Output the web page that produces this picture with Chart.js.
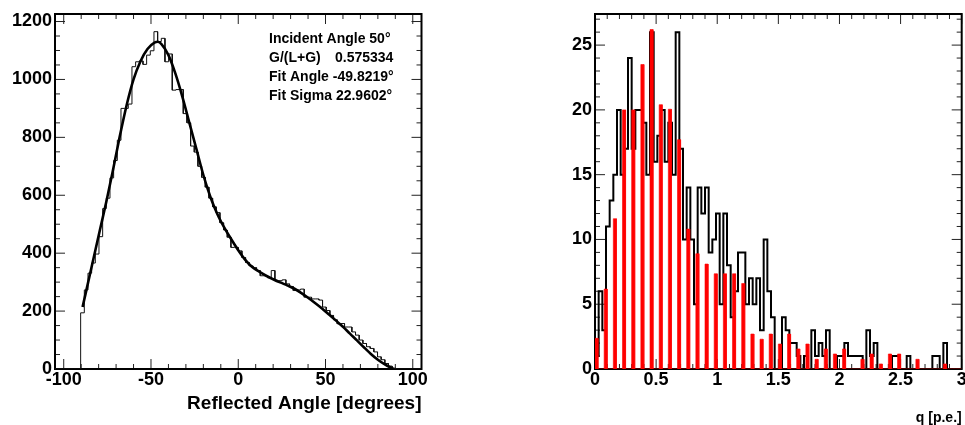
<!DOCTYPE html>
<html>
<head>
<meta charset="utf-8">
<script src="https://cdn.jsdelivr.net/npm/chart.js@4/dist/chart.umd.min.js"></script>
<style>
  body { margin: 0; background: #fff; }
  #wrap { position: relative; width: 965px; height: 425px; overflow: hidden; }
  canvas { position: absolute; top: 0; }
</style>
</head>
<body>
<div id="wrap">
  <canvas id="angle" width="482" height="425" style="left:0"></canvas>
  <canvas id="charge" width="483" height="425" style="left:482px"></canvas>
</div>
<script>
"use strict";

// reflected angle histogram: 100 bins of 2.1 deg from -105 to 105
const angleRange = [-105, 105];
const angleCounts = [
  0, 0, 0, 0, 0, 0, 0,
  194, 273, 331, 366, 397, 457, 554, 590, 660, 720, 790, 900, 900, 915,
  1044, 1061, 1064, 1052, 1084, 1099, 1165, 1131, 1142, 1061, 1088, 963, 965, 965,
  882, 850, 770, 749, 700, 662, 628, 590, 560, 540, 505, 480, 455, 420, 420, 408,
  385, 368, 356, 350, 340, 322, 322, 315, 340, 305, 305, 308, 294, 285, 271, 273,
  276, 248, 248, 242, 242, 238, 214, 202, 185, 170, 156, 157, 145, 145, 128, 117,
  100, 88, 77, 71, 59, 42, 32, 19, 10, 3,
  0, 0, 0, 0, 0, 0, 0
];
// fitted curve, sampled along the angle axis
const fitAngle = [-89.2, -84, -79.3, -75.5, -72, -68, -64, -60, -56, -52, -48, -46, -44,
  -40, -36, -32, -28, -24, -20, -16, -12, -8, -4, 0, 4, 8, 12, 16, 20, 24, 28, 32, 36,
  40, 44, 48, 52, 56, 60, 64, 68, 72, 76, 80, 84, 88.9];
const fitValue = [214, 353, 479, 580, 680, 800, 910, 1000, 1063, 1105, 1127, 1130, 1122,
  1084, 1020, 940, 850, 760, 670, 595, 535, 488, 448, 410, 377, 352, 336, 322, 310, 299, 289, 278, 263,
  246, 228, 209, 188, 167, 146, 122, 99, 75, 52, 32, 16, 0];
const angleTicks = [-100, -50, 0, 50, 100];
const angleCountTicks = [0, 200, 400, 600, 800, 1000, 1200];
const fitSummary = [
  ["Incident Angle 50\u00b0"],
  ["G/(L+G)", "0.575334"],
  ["Fit Angle -49.8219\u00b0"],
  ["Fit Sigma 22.9602\u00b0"]
];

// charge spectrum: 100 bins of 0.03 p.e. from 0 to 3
const chargeRange = [0, 3];
const chargeCounts = [
  1, 6, 3, 11, 13, 15, 20, 15, 17, 24, 17, 20, 20, 19, 15, 26, 16, 18, 20, 16,
  19, 15, 26, 17, 10, 14, 10, 5, 14, 12, 14, 9, 10, 12, 5, 12, 8, 4, 6, 9,
  9, 5, 7, 5, 7, 3, 10, 6, 4, 0, 0, 4, 3, 2, 2, 1, 0, 1, 0, 3,
  1, 2, 1, 3, 0, 0, 1, 1, 2, 1, 1, 1, 1, 0, 3, 1, 2, 0, 0, 0,
  0, 1, 1, 0, 0, 1, 0, 0, 0, 0, 0, 0, 1, 1, 0, 2, 0, 0, 0, 0
];
// scaled single-photoelectron spectrum: narrow 0.025 bins
const peBinWidth = 0.025;
const peBinStart = [0, 0.075, 0.15, 0.225, 0.3, 0.375, 0.45, 0.525, 0.6, 0.675,
  0.75, 0.825, 0.9, 0.975, 1.05, 1.125, 1.2, 1.275, 1.35, 1.425,
  1.5, 1.575, 1.65, 1.725, 1.8, 1.875, 1.95, 2.025, 2.1, 2.175,
  2.25, 2.325, 2.4, 2.475, 2.55, 2.625, 2.7, 2.775, 2.85, 2.925];
const peHeights = [2.37, 6.17, 11.6, 20.0, 20.0, 23.5, 26.2, 20.4, 20.05, 17.7,
  10.8, 8.9, 8.1, 7.35, 7.35, 7.35, 6.6, 2.7, 2.3, 2.7,
  1.93, 2.7, 1.55, 1.93, 0.75, 1.55, 1.16, 1.55, 0, 0.75,
  1.16, 0.39, 1.16, 1.16, 0, 0.75, 0, 0, 0.39, 0];
const chargeTicks = [0, 0.5, 1, 1.5, 2, 2.5, 3];
const chargeCountTicks = [0, 5, 10, 15, 20, 25];

const FONT = "'Liberation Sans', Arial, Helvetica, sans-serif";
Chart.defaults.font.family = FONT;
Chart.defaults.color = "#000";

// outline of a fixed-width histogram as a closed step path
function histPoints(range, counts) {
  const w = (range[1] - range[0]) / counts.length;
  const pts = [{ x: range[0], y: 0 }];
  counts.forEach((c, i) => {
    pts.push({ x: range[0] + i * w, y: c }, { x: range[0] + (i + 1) * w, y: c });
  });
  pts.push({ x: range[1], y: 0 });
  return pts;
}

// sparse histogram: only the listed bins are filled
function spikePoints(range, starts, width, heights) {
  const pts = [{ x: range[0], y: 0 }];
  starts.forEach((s, i) => {
    pts.push({ x: s, y: 0 }, { x: s, y: heights[i] }, { x: s + width, y: heights[i] }, { x: s + width, y: 0 });
  });
  pts.push({ x: range[1], y: 0 });
  return pts;
}

// ROOT-like frame with inward ticks on all four sides
const rootFrame = {
  id: "rootFrame",
  beforeDatasetsDraw(chart, args, opts) {
    const { ctx, chartArea: a, scales: { x, y } } = chart;
    ctx.save();
    ctx.strokeStyle = "#222";
    ctx.lineWidth = 1;
    const marks = (scale, minor, major) => {
      const out = [];
      const k0 = Math.ceil(scale.min / minor - 1e-6);
      const k1 = Math.floor(scale.max / minor + 1e-6);
      for (let k = k0; k <= k1; k++) {
        const v = k * minor;
        const r = v / major;
        out.push({ p: scale.getPixelForValue(v), len: Math.abs(r - Math.round(r)) < 1e-6 ? 10 : 5 });
      }
      return out;
    };
    ctx.beginPath();
    marks(x, opts.xMinor, opts.xMajor).forEach(({ p, len }) => {
      ctx.moveTo(p, a.bottom); ctx.lineTo(p, a.bottom - len);
      ctx.moveTo(p, a.top); ctx.lineTo(p, a.top + len);
    });
    marks(y, opts.yMinor, opts.yMajor).forEach(({ p, len }) => {
      ctx.moveTo(a.left, p); ctx.lineTo(a.left + len, p);
      ctx.moveTo(a.right, p); ctx.lineTo(a.right - len, p);
    });
    ctx.stroke();
    ctx.strokeStyle = "#000";
    ctx.lineWidth = 2;
    ctx.strokeRect(a.left, a.top, a.right - a.left, a.bottom - a.top);
    ctx.restore();
  }
};

const fitBox = {
  id: "fitBox",
  afterDraw(chart) {
    const { ctx } = chart;
    ctx.save();
    ctx.font = "bold 14px " + FONT;
    ctx.fillStyle = "#000";
    ctx.textBaseline = "alphabetic";
    fitSummary.forEach((parts, i) => {
      const yy = 42.5 + i * 19;
      ctx.fillText(parts[0], 269, yy);
      if (parts[1]) ctx.fillText(parts[1], 335, yy);
    });
    ctx.restore();
  }
};

function xAxis(range, ticks, fmt, title, titleFont, titlePad) {
  return {
    type: "linear", min: range[0], max: range[1],
    grid: { display: false, drawTicks: false }, border: { display: false },
    afterBuildTicks: s => { s.ticks = ticks.map(v => ({ value: v })); },
    afterFit: s => { s.height = 56; s.paddingLeft = 0; s.paddingRight = 0; },
    ticks: { font: { size: 18, weight: "bold" }, padding: 0, maxRotation: 0, autoSkip: false, callback: fmt },
    title: { display: true, text: title, align: "end", font: { size: titleFont, weight: "bold", lineHeight: 1 }, padding: { top: 0, bottom: titlePad } }
  };
}

function yAxis(max, ticks, width) {
  return {
    min: 0, max: max,
    grid: { display: false, drawTicks: false }, border: { display: false },
    afterBuildTicks: s => { s.ticks = ticks.map(v => ({ value: v })); },
    afterFit: s => { s.width = width; s.paddingTop = 0; s.paddingBottom = 0; },
    ticks: { font: { size: 18, weight: "bold" }, padding: 3, autoSkip: false, callback: v => String(v) }
  };
}

const common = {
  responsive: false,
  animation: false,
  devicePixelRatio: 1,
  events: [],
  elements: { point: { radius: 0 }, line: { tension: 0 } }
};

new Chart(document.getElementById("angle"), {
  type: "line",
  data: {
    datasets: [
      {
        data: fitAngle.map((a, i) => ({ x: a, y: fitValue[i] })),
        borderColor: "#000", borderWidth: 2.6, cubicInterpolationMode: "monotone", order: 0
      },
      {
        data: histPoints(angleRange, angleCounts),
        borderColor: "#111", borderWidth: 1, order: 1
      }
    ]
  },
  options: {
    ...common,
    layout: { padding: { left: 0, top: 14, right: 60.5, bottom: 0 } },
    plugins: {
      legend: { display: false }, tooltip: { enabled: false },
      rootFrame: { xMinor: 10, xMajor: 50, yMinor: 50, yMajor: 200 }
    },
    scales: {
      x: xAxis(angleRange, angleTicks, v => String(v), "Reflected Angle [degrees]", 19, 12),
      y: yAxis(1226, angleCountTicks, 55)
    }
  },
  plugins: [rootFrame, fitBox]
});

new Chart(document.getElementById("charge"), {
  type: "line",
  data: {
    datasets: [
      {
        data: spikePoints(chargeRange, peBinStart, peBinWidth, peHeights),
        borderColor: "#ff0000", backgroundColor: "#ff0000", fill: "origin",
        borderWidth: 0.6, order: 0
      },
      {
        data: histPoints(chargeRange, chargeCounts),
        borderColor: "#000", borderWidth: 2, order: 1
      }
    ]
  },
  options: {
    ...common,
    layout: { padding: { left: 0, top: 14, right: 3.3, bottom: 0 } },
    plugins: {
      legend: { display: false }, tooltip: { enabled: false },
      rootFrame: { xMinor: 0.1, xMajor: 0.5, yMinor: 1, yMajor: 5 }
    },
    scales: {
      x: xAxis(chargeRange, chargeTicks, v => String(v), "q [p.e.]", 14, 0),
      y: yAxis(27.4, chargeCountTicks, 113)
    }
  },
  plugins: [rootFrame]
});
</script>
</body>
</html>
